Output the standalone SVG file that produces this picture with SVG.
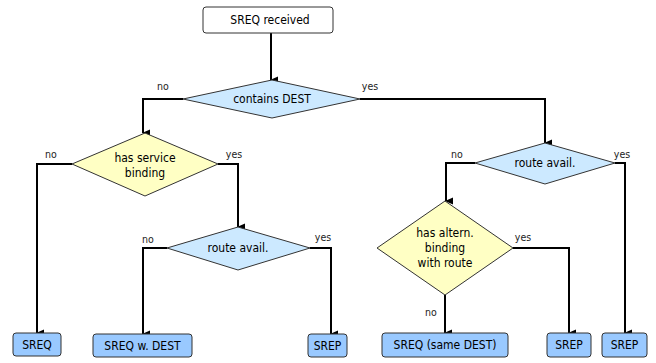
<svg xmlns="http://www.w3.org/2000/svg" width="656" height="363" viewBox="0 0 656 363">
<defs>
<marker id="ah" markerWidth="8" markerHeight="8" refX="4" refY="7" orient="auto" markerUnits="userSpaceOnUse" viewBox="0 0 8 8">
<path d="M4,8 L0.5,0 L7.5,0 Z" fill="#000"/>
</marker>
<style>
text{font-family:"DejaVu Sans Condensed","DejaVu Sans",sans-serif;fill:#000}
.t{font-size:12px;text-anchor:middle}
.l{font-size:10.5px;text-anchor:middle;fill:#222}
.start{fill:#fff;stroke:#333;stroke-width:1}
.end{fill:#99c9ff;stroke:#333;stroke-width:1}
.db{fill:#cce9ff;stroke:#333;stroke-width:1}
.dy{fill:#ffffc4;stroke:#333;stroke-width:1}
.c{fill:none;stroke:#000;stroke-width:2;marker-end:url(#ah)}
</style>
</defs>
<rect width="656" height="363" fill="#fff"/>
<g id="connectors">
<path class="c" d="M271,33 V80"/>
<path class="c" d="M183,99 H143 V133"/>
<path class="c" d="M360,99 H545 V143"/>
<path class="c" d="M72,164 H37 V333"/>
<path class="c" d="M218,164 H238 V227"/>
<path class="c" d="M167,248 H143 V334"/>
<path class="c" d="M310,248 H331 V334"/>
<path class="c" d="M475,163 H446 V201"/>
<path class="c" d="M615,163 H625 V333"/>
<path class="c" d="M513,248 H569 V333"/>
<path class="c" d="M445,295 V333"/>
</g>
<g id="labels">
<text class="l" x="163" y="90">no</text>
<text class="l" x="370" y="90">yes</text>
<text class="l" x="51" y="158">no</text>
<text class="l" x="234" y="158">yes</text>
<text class="l" x="148" y="243">no</text>
<text class="l" x="323" y="241">yes</text>
<text class="l" x="457" y="158">no</text>
<text class="l" x="622" y="158">yes</text>
<text class="l" x="523" y="241">yes</text>
<text class="l" x="431" y="316">no</text>
</g>
<g id="start"><rect class="start" x="203" y="7" width="130" height="26" rx="3"/><text class="t" x="270" y="24">SREQ received</text></g>
<g id="d_contains"><polygon class="db" points="272,80 360,99 272,118 183,99"/><text class="t" x="272" y="103">contains DEST</text></g>
<g id="d_service"><polygon class="dy" points="145,133 218,164 145,196 72,164"/><text class="t" x="145" y="162">has service</text><text class="t" x="145" y="177">binding</text></g>
<g id="d_route1"><polygon class="db" points="238,227 310,248 238,270 167,248"/><text class="t" x="238" y="252">route avail.</text></g>
<g id="d_route2"><polygon class="db" points="545,143 615,163 545,184 475,163"/><text class="t" x="545" y="167">route avail.</text></g>
<g id="d_altern"><polygon class="dy" points="445,201 513,248 445,295 377,248"/><text class="t" x="445" y="237">has altern.</text><text class="t" x="445" y="252">binding</text><text class="t" x="445" y="267">with route</text></g>
<g id="e_sreq"><rect class="end" x="13" y="333" width="48" height="23" rx="3"/><text class="t" x="37" y="349">SREQ</text></g>
<g id="e_sreqdest"><rect class="end" x="93" y="334" width="99" height="23" rx="3"/><text class="t" x="142.5" y="350">SREQ w. DEST</text></g>
<g id="e_srep1"><rect class="end" x="308" y="334" width="39" height="23" rx="3"/><text class="t" x="327.5" y="350">SREP</text></g>
<g id="e_sreqsame"><rect class="end" x="382" y="333" width="126" height="24" rx="3"/><text class="t" x="445" y="349">SREQ (same DEST)</text></g>
<g id="e_srep2"><rect class="end" x="547" y="333" width="44" height="24" rx="3"/><text class="t" x="569" y="349">SREP</text></g>
<g id="e_srep3"><rect class="end" x="602" y="333" width="45" height="24" rx="3"/><text class="t" x="624.5" y="349">SREP</text></g>
</svg>
